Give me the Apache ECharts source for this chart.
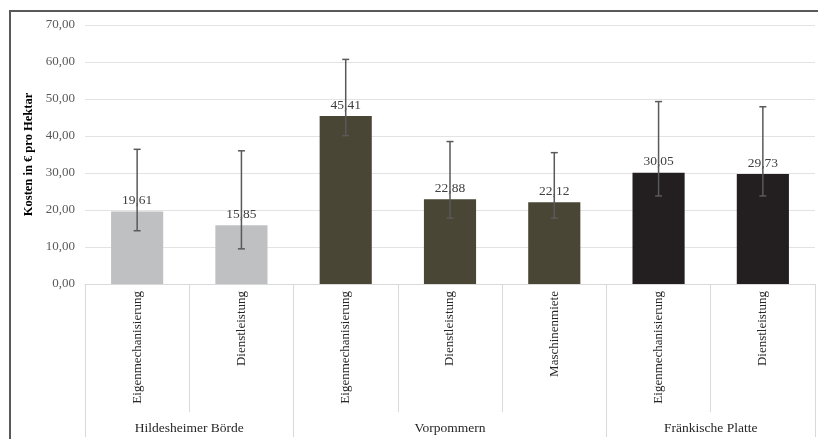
<!DOCTYPE html>
<html>
<head>
<meta charset="utf-8">
<script src="https://cdn.jsdelivr.net/npm/echarts@6/dist/echarts.min.js"></script>
<style>
  html, body { margin: 0; padding: 0; background: #fff; }
  #chart { width: 818px; height: 439px; }
</style>
</head>
<body>
<div id="chart"></div>
<script>
// Daten
const categories = ['Eigenmechanisierung', 'Dienstleistung', 'Eigenmechanisierung', 'Dienstleistung', 'Maschinenmiete', 'Eigenmechanisierung', 'Dienstleistung'];
const regions = ['Hildesheimer Börde', 'Vorpommern', 'Fränkische Platte'];
const regionOfCategory = [0, 0, 1, 1, 1, 2, 2];
const costs = [19.61, 15.85, 45.41, 22.88, 22.12, 30.05, 29.73];
const errLow = [14.4, 9.5, 40.1, 17.8, 17.8, 23.8, 23.8];
const errHigh = [36.4, 36.0, 60.7, 38.5, 35.5, 49.3, 47.9];

const FONT = '"Liberation Serif", "DejaVu Serif", serif';
const regionColors = ['#bfc0c2', '#4a4636', '#231f20'];
const fmt = v => v.toFixed(2).replace('.', ',');

// zweite Achsenebene: halbe Schritte, Regionen mittig über ihren Kategorien
const regionTicks = [0];
const halfSlots = new Array(categories.length * 2 + 1).fill('');
let start = 0;
regions.forEach((name, r) => {
  const n = regionOfCategory.filter(g => g === r).length;
  halfSlots[start * 2 + n] = name;
  start += n;
  regionTicks.push(start * 2);
});

const chart = echarts.init(document.getElementById('chart'), null, { renderer: 'canvas' });

chart.setOption({
  animation: false,
  textStyle: { fontFamily: FONT },
  graphic: [{
    type: 'polyline',
    shape: { points: [[10, 439], [10, 11], [818, 11]] },
    style: { stroke: '#595959', lineWidth: 2, fill: null },
    silent: true
  }],
  grid: { left: 85, right: 3, top: 25, bottom: 155 },
  xAxis: [{
    type: 'category',
    data: categories,
    axisLine: { show: true, lineStyle: { color: '#d9d9d9' } },
    axisTick: { show: true, interval: 0, length: 128, lineStyle: { color: '#d9d9d9' } },
    axisLabel: {
      rotate: 90, interval: 0, margin: 7,
      color: '#262626', fontSize: 13, fontFamily: FONT
    }
  }, {
    type: 'category',
    data: halfSlots,
    boundaryGap: false,
    position: 'bottom',
    offset: 128,
    axisLine: { show: false },
    axisTick: {
      show: true, length: 25,
      interval: i => regionTicks.includes(i),
      lineStyle: { color: '#d9d9d9' }
    },
    axisLabel: {
      interval: 0, margin: 9,
      color: '#262626', fontSize: 13.5, fontFamily: FONT
    }
  }],
  yAxis: {
    type: 'value',
    min: 0, max: 70, interval: 10,
    name: 'Kosten in € pro Hektar',
    nameLocation: 'middle',
    nameGap: 44,
    nameTextStyle: { fontWeight: 'bold', fontSize: 12.5, color: '#000', fontFamily: FONT },
    axisLine: { show: false },
    axisTick: { show: false },
    axisLabel: { formatter: v => fmt(v), color: '#595959', fontSize: 13, margin: 10, fontFamily: FONT },
    splitLine: { lineStyle: { color: '#e3e3e3' } }
  },
  series: [{
    type: 'bar',
    xAxisIndex: 0,
    barWidth: '50%',
    data: costs.map((v, i) => ({ value: v, itemStyle: { color: regionColors[regionOfCategory[i]] } })),
    label: {
      show: true, position: 'top', distance: 4,
      formatter: p => fmt(p.value),
      color: '#404040', fontSize: 13.5, fontFamily: FONT
    },
    z: 2
  }, {
    type: 'custom',
    xAxisIndex: 0,
    data: categories.map((c, i) => [i, errLow[i], errHigh[i]]),
    renderItem: (params, api) => {
      const lo = api.coord([api.value(0), api.value(1)]);
      const hi = api.coord([api.value(0), api.value(2)]);
      const w = 3.5;
      const style = { stroke: '#595959', lineWidth: 1.5 };
      return {
        type: 'group',
        children: [
          { type: 'line', shape: { x1: hi[0], y1: hi[1], x2: lo[0], y2: lo[1] }, style },
          { type: 'line', shape: { x1: hi[0] - w, y1: hi[1], x2: hi[0] + w, y2: hi[1] }, style },
          { type: 'line', shape: { x1: lo[0] - w, y1: lo[1], x2: lo[0] + w, y2: lo[1] }, style }
        ]
      };
    },
    z: 5
  }]
});
</script>
</body>
</html>
